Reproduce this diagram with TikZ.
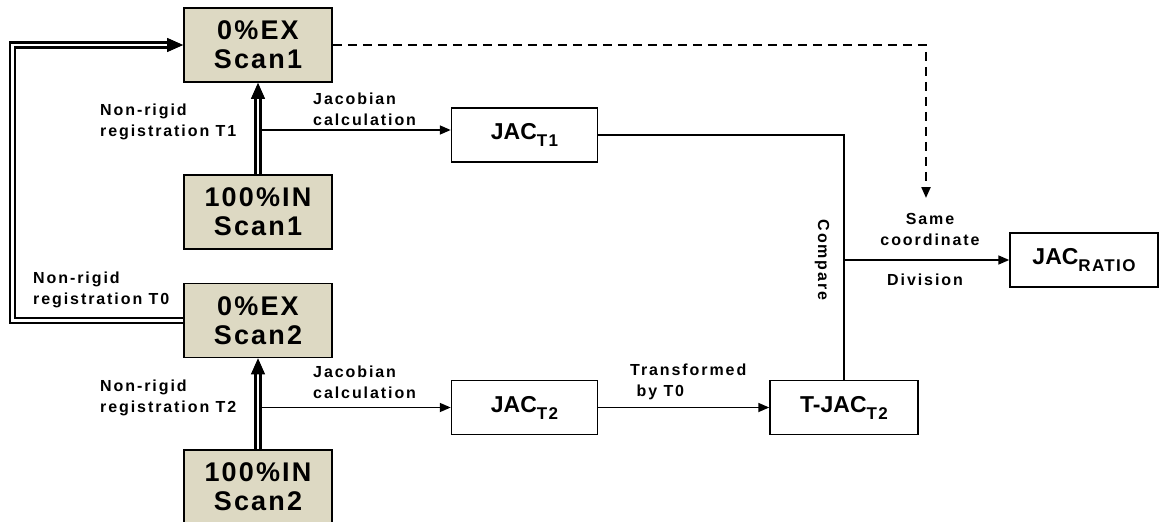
\documentclass[tikz,border=0pt]{standalone}
\usepackage{fontspec}
\setmainfont{Liberation Sans}
\newfontfamily\lblfont{Liberation Sans}[LetterSpace=12]
\newfontfamily\boxfont{Liberation Sans}[LetterSpace=8]
\newfontfamily\subfont{Liberation Sans}[LetterSpace=8]
\usetikzlibrary{arrows.meta}
\definecolor{boxtan}{HTML}{DDD9C3}
\newcommand{\jsub}[1]{\raisebox{-7pt}{\subfont\bfseries\fontsize{17}{17}\selectfont #1}}
\tikzset{
  scanbox/.style={draw, line width=1.6pt, fill=boxtan, minimum width=148pt, minimum height=74pt,
    inner sep=0pt, align=center, font=\boxfont\bfseries\fontsize{27}{29}\selectfont},
  jacbox/.style={draw, line width=1.5pt, fill=white, minimum width=146pt, minimum height=54pt,
    inner sep=0pt, font=\bfseries\fontsize{23}{24}\selectfont},
  lbl/.style={font=\lblfont\bfseries\fontsize{16}{21}\selectfont, align=left, inner sep=0pt},
  lblc/.style={lbl, align=center},
  dbl/.style={double=white, double distance=2.6pt, line width=2.4pt},
  bigtip/.style={-{Triangle[length=16pt,width=14pt]}, line width=1pt},
  conn/.style={line width=1.7pt},
  arr/.style={conn, -{Triangle[length=11pt,width=9pt]}}
}
\begin{document}
\begin{tikzpicture}[x=1pt,y=-1pt]
\useasboundingbox (0,0) rectangle (1163,522);
% boxes
\node[scanbox] (ex1) at (258,45) {0\%EX\\Scan1};
\node[scanbox] (in1) at (258,212) {100\%IN\\Scan1};
\node[scanbox] (ex2) at (258,320.5) {0\%EX\\Scan2};
\node[scanbox] (in2) at (258,487) {100\%IN\\Scan2};
\node[jacbox] (jac1) at (524.5,135) {JAC\jsub{T1}};
\node[jacbox] (jac2) at (524.5,407.5) {JAC\jsub{T2}};
\node[jacbox, minimum width=148pt] (tjac) at (844,407.5) {T-JAC\jsub{T2}};
\node[jacbox, minimum width=148pt] (ratio) at (1084,260) {JAC\jsub{RATIO}};
% double registration arrows
\draw[dbl] (in1.north) -- ([yshift=-12pt]ex1.south);
\draw[bigtip] ([yshift=-14pt]ex1.south) -- (ex1.south);
\draw[dbl] (in2.north) -- ([yshift=-12pt]ex2.south);
\draw[bigtip] ([yshift=-14pt]ex2.south) -- (ex2.south);
\coordinate (lp) at (12.5,0);
\draw[dbl] (ex2.west) -- (ex2.west -| lp) -- (ex1.west -| lp) -- ([xshift=-13pt]ex1.west);
\draw[bigtip] ([xshift=-15pt]ex1.west) -- (ex1.west);
% jacobian arrows
\coordinate (j1) at (262,130);
\draw[arr] (j1) -- (jac1.west |- j1);
\coordinate (j2) at (262,407.5);
\draw[arr] (j2) -- (jac2.west);
\draw[arr] (jac2.east) -- (tjac.west);
% compare
\draw[conn] (jac1.east) -- (jac1.east -| tjac.north) -- (tjac.north);
\coordinate (br) at (tjac.north |- ratio.west);
\draw[arr] (br) -- (ratio.west);
% dashed
\coordinate (dend) at (926,198);
\draw[line width=2.2pt, dash pattern=on 9pt off 6pt, -{Triangle[length=11pt,width=9pt]}]
  (ex1.east) -- (ex1.east -| dend) -- (dend);
% labels
\node[lbl, anchor=west] (nr1) at (100,122) {Non-rigid\\registration T1};
\node[lbl, anchor=west] (nr0) at (33,290) {Non-rigid\\registration T0};
\node[lbl, anchor=west] (nr2) at (100,398) {Non-rigid\\registration T2};
\node[lbl, anchor=west] (jc1) at (313,109) {Jacobian\\calculation};
\node[lbl, anchor=west] (jc2) at (313,382) {Jacobian\\calculation};
\node[lbl, anchor=west] (tr) at (630,382) {Transformed\\\ by T0};
\node[lbl, rotate=-90] (cmp) at (822,260) {Compare};
\node[lblc] (same) at (930,229) {Same\\coordinate};
\node[lbl] (div) at (925,280) {Division};
\end{tikzpicture}
\end{document}
